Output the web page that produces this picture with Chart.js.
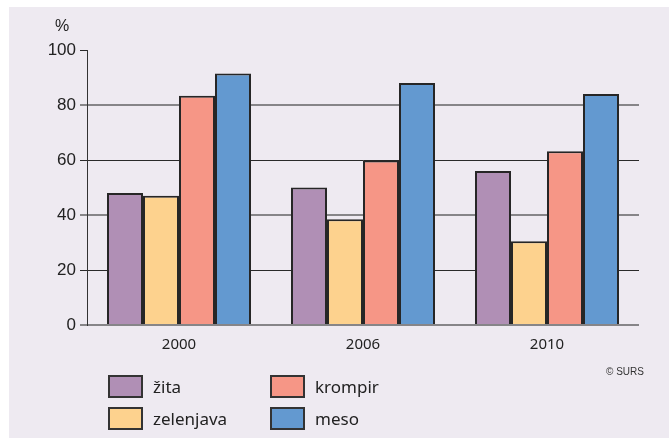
<!DOCTYPE html>
<html>
<head>
<meta charset="utf-8">
<script src="https://cdn.jsdelivr.net/npm/chart.js@4"></script>
<style>
  html, body { margin: 0; padding: 0; background: #fff; }
  #wrap { position: relative; width: 669px; height: 438px; overflow: hidden; }
  #bg { position: absolute; left: 9px; top: 7px; right: 0; bottom: 0; background: #eeeaf1; }
  #chart { position: absolute; left: 0; top: 0; }
  #pct { position: absolute; left: 55px; top: 17px; font: 16px "Liberation Sans", Arial, sans-serif; color: #222; }
  #credit { position: absolute; left: 606px; top: 366px; font: 10px "Liberation Sans", Arial, sans-serif; color: #333; }
  .leg { position: absolute; display: flex; align-items: center; font: 17px "Noto Sans", sans-serif; color: #222; }
  .leg .sw { width: 31px; height: 19px; border: 2px solid #333; margin-right: 10px; }
</style>
</head>
<body>
<div id="wrap">
  <div id="bg"></div>
  <canvas id="chart" width="669" height="438"></canvas>
  <div id="pct">%</div>
  <div id="legend"></div>
  <div id="credit">© SURS</div>
</div>
<script>
const years = ['2000', '2006', '2010'];
const seriesNames = ['žita', 'zelenjava', 'krompir', 'meso'];
const zita = [48, 50, 56];
const zelenjava = [47, 38.5, 30.5];
const krompir = [83.4, 59.8, 63.2];
const meso = [91.5, 88, 84];
const yTicks = [0, 20, 40, 60, 80, 100];
const colors = ['#b08fb5', '#fdd28e', '#f69686', '#6399d0'];

const values = [zita, zelenjava, krompir, meso];

// legend: two columns, filled top to bottom
const legendEl = document.getElementById('legend');
const legPos = [[108, 375], [108, 407], [270, 375], [270, 407]];
seriesNames.forEach((name, i) => {
  const item = document.createElement('div');
  item.className = 'leg';
  item.style.left = legPos[i][0] + 'px';
  item.style.top = legPos[i][1] + 'px';
  item.innerHTML = `<div class="sw" style="background:${colors[i]}"></div><span>${name}</span>`;
  legendEl.appendChild(item);
});

const lightLine = v => v === 80 || v === 40 || v === 0;

const ctx = document.getElementById('chart').getContext('2d');
new Chart(ctx, {
  type: 'bar',
  data: {
    labels: years,
    datasets: seriesNames.map((name, i) => ({
      label: name,
      data: values[i],
      backgroundColor: colors[i],
      borderColor: '#262626',
      borderWidth: 2,
      categoryPercentage: 144 / 184, // whole-pixel bar widths
      barPercentage: 1
    }))
  },
  options: {
    responsive: false,
    animation: false,
    layout: { padding: { left: 0, top: 50, right: 30, bottom: 0 } },
    plugins: {
      legend: { display: false },
      tooltip: { enabled: false }
    },
    scales: {
      x: {
        grid: { display: false, drawTicks: false },
        border: { display: false },
        ticks: {
          padding: 11,
          color: '#222',
          font: { family: 'Noto Sans', size: 15 }
        },
        afterFit: s => { s.height = 113; }
      },
      y: {
        min: 0,
        max: 100,
        afterBuildTicks: s => { s.ticks = yTicks.map(v => ({ value: v })); },
        grid: {
          color: c => c.tick.value === 100 ? 'rgba(0,0,0,0)' : (lightLine(c.tick.value) ? 'rgba(50,50,50,0.55)' : '#2a2a2a'),
          tickColor: c => lightLine(c.tick.value) ? 'rgba(50,50,50,0.55)' : '#2a2a2a',
          lineWidth: c => lightLine(c.tick.value) ? 2 : 1,
          tickLength: 7
        },
        border: { display: true, color: '#333', width: 1 },
        ticks: {
          padding: 4,
          color: '#222',
          font: { family: 'Liberation Sans', size: 17 }
        },
        afterFit: s => { s.width = 87; }
      }
    }
  }
});
</script>
</body>
</html>
